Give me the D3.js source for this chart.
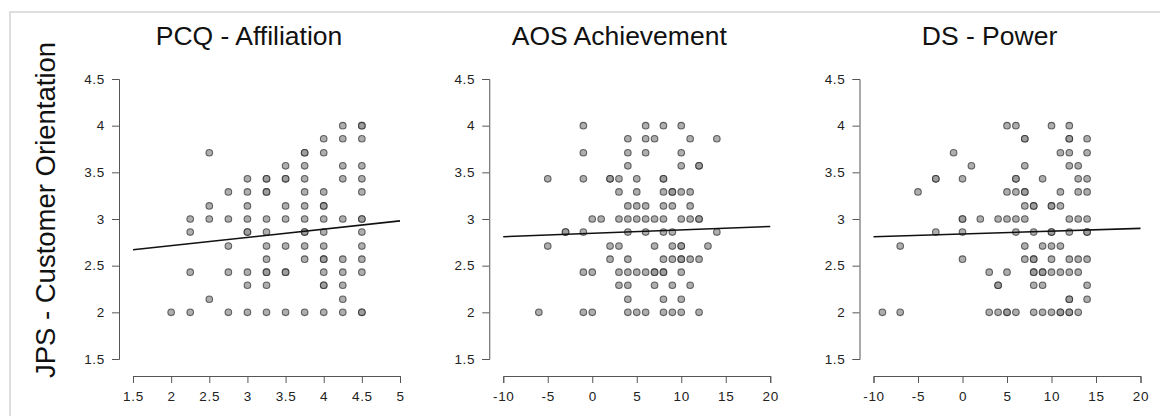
<!DOCTYPE html>
<html>
<head>
<meta charset="utf-8">
<script src="https://cdn.jsdelivr.net/npm/d3@7"></script>
<style>
body { margin: 0; background: #fff; }
svg { display: block; font-family: "Liberation Sans", Arial, sans-serif; }
</style>
</head>
<body>
<svg width="1160" height="416"></svg>
<script>
// shared y axis
var yTicks = [1.5, 2, 2.5, 3, 3.5, 4, 4.5];
var yLabel = "JPS - Customer Orientation";

// panel titles and x ticks
var titles = ["PCQ - Affiliation", "AOS Achievement", "DS - Power"];
var pcqTicks = [1.5, 2, 2.5, 3, 3.5, 4, 4.5, 5];
var aosTicks = [-10, -5, 0, 5, 10, 15, 20];
var dsTicks = [-10, -5, 0, 5, 10, 15, 20];

// points, one row per y value: [y, [x values]] (repeated x = overplotted)
var pcqRows = [
  [4,    [4.25, 4.5, 4.5]],
  [3.86, [4, 4.25, 4.5]],
  [3.71, [2.5, 3.75, 3.75, 4]],
  [3.57, [3.5, 3.75, 4.25, 4.5]],
  [3.43, [3, 3.25, 3.25, 3.5, 3.5, 3.75, 4.25, 4.5]],
  [3.29, [2.75, 3, 3.25, 3.25, 3.75, 4, 4.5]],
  [3.14, [2.5, 3, 3.5, 3.75, 4, 4]],
  [3,    [2.25, 2.5, 2.75, 3, 3.25, 3.5, 3.75, 4, 4.25, 4.5, 4.5]],
  [2.86, [2.25, 3, 3, 3.25, 3.75, 3.75, 4, 4.5]],
  [2.71, [2.75, 3.25, 3.5, 3.75, 4, 4.5]],
  [2.57, [3.25, 3.75, 4, 4, 4.25, 4.5]],
  [2.43, [2.25, 2.75, 3, 3.25, 3.25, 3.5, 3.5, 4, 4.25, 4.5]],
  [2.29, [3, 3.25, 4, 4, 4.25]],
  [2.14, [2.5, 4.25]],
  [2,    [2, 2.25, 2.75, 3, 3.25, 3.5, 3.75, 4, 4.25, 4.5, 4.5]]
];

var aosRows = [
  [4,    [-1, 6, 8, 10]],
  [3.86, [4, 6, 7, 11, 14]],
  [3.71, [-1, 4, 6, 10]],
  [3.57, [4, 10, 12, 12]],
  [3.43, [-5, -1, 2, 2, 3, 5, 8, 8]],
  [3.29, [3, 5, 8, 9, 9, 10, 11]],
  [3.14, [4, 5, 6, 8, 9, 11]],
  [3,    [0, 1, 3, 4, 5, 6, 7, 8, 10, 11, 12, 12]],
  [2.86, [-3, -3, -1, 4, 6, 8, 9, 14]],
  [2.71, [-5, 2, 3, 7, 9, 10, 10, 13]],
  [2.57, [2, 4, 8, 9, 10, 10, 11, 12]],
  [2.43, [-1, 0, 3, 4, 5, 6, 7, 7, 8, 8, 10]],
  [2.29, [3, 4, 7, 9, 11]],
  [2.14, [4, 8, 10]],
  [2,    [-6, -1, 0, 4, 5, 6, 8, 9, 10, 12]]
];

var dsRows = [
  [4,    [5, 6, 10, 12]],
  [3.86, [7, 7, 12, 12, 14]],
  [3.71, [-1, 11, 12, 14]],
  [3.57, [1, 7, 12, 13]],
  [3.43, [-3, -3, 0, 6, 6, 9, 13, 14]],
  [3.29, [-5, 5, 6, 7, 7, 11, 13, 14]],
  [3.14, [7, 8, 8, 10, 10, 11]],
  [3,    [0, 0, 2, 4, 5, 6, 7, 12, 13, 14]],
  [2.86, [-3, 0, 6, 8, 10, 10, 12, 14, 14]],
  [2.71, [-7, 7, 9, 10, 11]],
  [2.57, [0, 7, 8, 8, 10, 12, 13, 14]],
  [2.43, [3, 5, 8, 8, 9, 9, 10, 11, 12, 13]],
  [2.29, [4, 4, 8, 9, 14]],
  [2.14, [12, 12, 14]],
  [2,    [-9, -7, 3, 4, 5, 5, 6, 8, 9, 10, 11, 11, 12, 12, 13]]
];

// fitted lines, [[x0, y0], [x1, y1]]
var pcqFit = [[1.5, 2.67], [5, 2.98]];
var aosFit = [[-10, 2.81], [20, 2.92]];
var dsFit = [[-10, 2.81], [20, 2.90]];

var panels = [
  {title: titles[0], rows: pcqRows, ticks: pcqTicks, fit: pcqFit},
  {title: titles[1], rows: aosRows, ticks: aosTicks, fit: aosFit},
  {title: titles[2], rows: dsRows, ticks: dsTicks, fit: dsFit}
];

var svg = d3.select("svg");

// light frame
svg.append("path")
  .attr("d", "M10,416V12H1160")
  .attr("fill", "none")
  .attr("stroke", "#dedede")
  .attr("stroke-width", 2);

var y = d3.scaleLinear().domain([1.5, 4.5]).range([359, 79]);

svg.append("text")
  .attr("transform", "translate(55,210) rotate(-90)")
  .attr("text-anchor", "middle")
  .attr("font-size", 27.5)
  .attr("fill", "#111")
  .text(yLabel);

// plain hyphen for negatives, like the original
var fmt = function(d) { return String(d); };

panels.forEach(function(p, i) {
  var ax = 119 + i * 370.25;
  var x = d3.scaleLinear()
    .domain(d3.extent(p.ticks))
    .range([ax + 14, ax + 281]);

  var g = svg.append("g");

  g.append("text")
    .attr("x", ax + 130)
    .attr("y", 45)
    .attr("text-anchor", "middle")
    .attr("font-size", 26.5)
    .attr("fill", "#111")
    .text(p.title);

  var yAxis = g.append("g")
    .attr("transform", "translate(" + ax + ",0)")
    .call(d3.axisLeft(y).tickValues(yTicks).tickSize(7).tickPadding(7)
      .tickFormat(fmt));

  var xAxis = g.append("g")
    .attr("transform", "translate(0,376)")
    .call(d3.axisBottom(x).tickValues(p.ticks).tickSize(7).tickPadding(8)
      .tickFormat(fmt));

  [yAxis, xAxis].forEach(function(a) {
    a.selectAll("path, line").attr("stroke", "#555");
    a.selectAll("text")
      .attr("font-family", "Liberation Sans, Arial, sans-serif")
      .attr("font-size", 13.5)
      .attr("letter-spacing", 0.7)
      .attr("fill", "#222");
  });

  var pts = [];
  p.rows.forEach(function(r) {
    r[1].forEach(function(v) { pts.push({x: v, y: r[0]}); });
  });

  g.append("g").selectAll("circle")
    .data(pts)
    .enter().append("circle")
    .attr("cx", function(d) { return x(d.x); })
    .attr("cy", function(d) { return y(d.y); })
    .attr("r", 3.3)
    .attr("fill", "#9a9a9a")
    .attr("fill-opacity", 0.8)
    .attr("stroke", "#222")
    .attr("stroke-opacity", 0.65)
    .attr("stroke-width", 1.1);

  g.append("path")
    .datum(p.fit)
    .attr("d", d3.line()
      .x(function(d) { return x(d[0]); })
      .y(function(d) { return y(d[1]); }))
    .attr("fill", "none")
    .attr("stroke", "#111")
    .attr("stroke-width", 1.6);
});
</script>
</body>
</html>
